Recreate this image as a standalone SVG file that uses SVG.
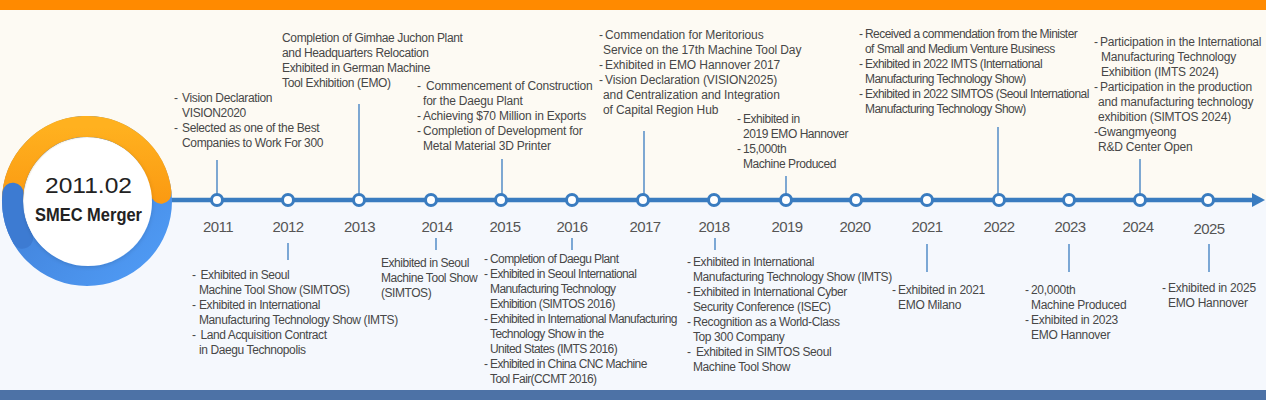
<svg xmlns="http://www.w3.org/2000/svg" width="1266" height="400" viewBox="0 0 1266 400">
<style>
.t{font-family:"Liberation Sans",Arial,sans-serif;font-size:12px;fill:#474747;letter-spacing:-0.35px}
.yr{font-family:"Liberation Sans",Arial,sans-serif;font-size:15px;fill:#555;letter-spacing:-0.6px;text-anchor:middle}
.nd{fill:#fff;stroke:#3a7cc0;stroke-width:3}
.ld{stroke:#3a7cc0;stroke-width:1.3;fill:none}
</style>
<defs>
<linearGradient id="og" x1="0" y1="0" x2="0" y2="1">
<stop offset="0" stop-color="#ffb11f"/><stop offset="1" stop-color="#fb9a12"/>
</linearGradient>
<linearGradient id="bg" x1="0" y1="0" x2="1" y2="1">
<stop offset="0" stop-color="#3c78cf"/><stop offset="1" stop-color="#509cf6"/>
</linearGradient>
<marker id="ah" markerWidth="14" markerHeight="14" refX="0" refY="7" orient="auto" markerUnits="userSpaceOnUse">
<path d="M0,0 L13,7 L0,14 Z" fill="#3a7cc0"/>
</marker>
<filter id="sh" x="-20%" y="-20%" width="140%" height="140%">
<feDropShadow dx="0" dy="1" stdDeviation="2" flood-color="#000" flood-opacity="0.15"/>
</filter>
</defs>
<rect x="0" y="0" width="1266" height="400" fill="#fdfaf3"/>
<rect x="0" y="200" width="1266" height="190" fill="#f5f8fd"/>
<rect x="0" y="0" width="1266" height="10" fill="#ff8a00"/>
<rect x="0" y="390" width="1266" height="10" fill="#4d72a6"/>

<g id="connectors">
<line x1="170" y1="200" x2="1252" y2="200" stroke="#3a7cc0" stroke-width="4.5" marker-end="url(#ah)"/>
<line class="ld" x1="217" y1="160" x2="217" y2="195"/>
<line class="ld" x1="288" y1="243" x2="288" y2="260"/>
<line class="ld" x1="359" y1="104" x2="359" y2="195"/>
<line class="ld" x1="436" y1="238" x2="436" y2="250"/>
<line class="ld" x1="502" y1="159" x2="502" y2="195"/>
<line class="ld" x1="572" y1="238" x2="572" y2="250"/>
<line class="ld" x1="644" y1="131" x2="644" y2="195"/>
<line class="ld" x1="715" y1="238" x2="715" y2="250"/>
<line class="ld" x1="786" y1="176" x2="786" y2="195"/>
<line class="ld" x1="927" y1="244" x2="927" y2="272"/>
<line class="ld" x1="998" y1="127" x2="998" y2="195"/>
<line class="ld" x1="1069" y1="244" x2="1069" y2="272"/>
<line class="ld" x1="1140" y1="159" x2="1140" y2="195"/>
<line class="ld" x1="1209" y1="244" x2="1209" y2="272"/>
</g>

<g id="merger">
<circle cx="87" cy="201" r="74.5" fill="none" stroke="url(#bg)" stroke-width="21"/>
<path d="M 12.5 201 A 74.5 74.5 0 0 1 161.1 193.2" fill="none" stroke="url(#og)" stroke-width="21" stroke-linecap="round"/>
<path d="M 22.5 238.25 A 74.5 74.5 0 0 1 12.9 193.2" fill="none" stroke="#3d7bd2" stroke-width="21" stroke-linecap="round"/>
<circle cx="88" cy="202" r="64" fill="#fff" filter="url(#sh)"/>
<text x="88.5" y="193" font-family="'Liberation Sans',Arial,sans-serif" font-size="22" fill="#222" text-anchor="middle" textLength="87" lengthAdjust="spacingAndGlyphs">2011.02</text>
<text x="88.5" y="221" font-family="'Liberation Sans',Arial,sans-serif" font-size="17.5" font-weight="bold" fill="#222" text-anchor="middle" textLength="107" lengthAdjust="spacingAndGlyphs">SMEC Merger</text>
</g>

<g id="y2011">
<circle class="nd" cx="217" cy="200" r="5.5"/>
<text class="yr" x="218" y="232">2011</text>
<text class="t"><tspan x="174" y="102">-</tspan><tspan x="182" y="102">Vision Declaration</tspan><tspan x="182" y="117">VISION2020</tspan><tspan x="174" y="132">-</tspan><tspan x="182" y="132">Selected as one of the Best</tspan><tspan x="182" y="147">Companies to Work For 300</tspan></text>
</g>

<g id="y2012">
<circle class="nd" cx="288" cy="200" r="5.5"/>
<text class="yr" x="288" y="232">2012</text>
<text class="t" style="letter-spacing:-0.4px"><tspan x="192" y="279">-</tspan><tspan x="200.5" y="279">Exhibited in Seoul</tspan><tspan x="199" y="294">Machine Tool Show (SIMTOS)</tspan><tspan x="192" y="309">-</tspan><tspan x="199" y="309">Exhibited in International</tspan><tspan x="199" y="324">Manufacturing Technology Show (IMTS)</tspan><tspan x="192" y="339">-</tspan><tspan x="200.5" y="339">Land Acquisition Contract</tspan><tspan x="199" y="354">in Daegu Technopolis</tspan></text>
</g>

<g id="y2013">
<circle class="nd" cx="359" cy="200" r="5.5"/>
<text class="yr" x="359.5" y="232">2013</text>
<text class="t"><tspan x="282" y="42">Completion of Gimhae Juchon Plant</tspan><tspan x="282" y="57">and Headquarters Relocation</tspan><tspan x="282" y="72">Exhibited in German Machine</tspan><tspan x="282" y="87">Tool Exhibition (EMO)</tspan></text>
</g>

<g id="y2014">
<circle class="nd" cx="431" cy="200" r="5.5"/>
<text class="yr" x="437" y="232">2014</text>
<text class="t" style="letter-spacing:-0.45px"><tspan x="381" y="267">Exhibited in Seoul</tspan><tspan x="381" y="282">Machine Tool Show</tspan><tspan x="381" y="297">(SIMTOS)</tspan></text>
</g>

<g id="y2015">
<circle class="nd" cx="501" cy="200" r="5.5"/>
<text class="yr" x="505" y="232">2015</text>
<text class="t" style="letter-spacing:-0.2px"><tspan x="417" y="90">-</tspan><tspan x="426" y="90">Commencement of Construction</tspan><tspan x="423" y="105">for the Daegu Plant</tspan><tspan x="417" y="120">-</tspan><tspan x="423" y="120">Achieving $70 Million in Exports</tspan><tspan x="417" y="135">-</tspan><tspan x="423" y="135">Completion of Development for</tspan><tspan x="423" y="150">Metal Material 3D Printer</tspan></text>
</g>

<g id="y2016">
<circle class="nd" cx="572" cy="200" r="5.5"/>
<text class="yr" x="572" y="232">2016</text>
<text class="t" style="letter-spacing:-0.6px"><tspan x="484" y="263">-</tspan><tspan x="490" y="263">Completion of Daegu Plant</tspan><tspan x="484" y="278">-</tspan><tspan x="490" y="278">Exhibited in Seoul International</tspan><tspan x="490" y="293">Manufacturing Technology</tspan><tspan x="490" y="308">Exhibition (SIMTOS 2016)</tspan><tspan x="484" y="323">-</tspan><tspan x="490" y="323">Exhibited in International Manufacturing</tspan><tspan x="490" y="338">Technology Show in the</tspan><tspan x="490" y="353">United States (IMTS 2016)</tspan><tspan x="484" y="368">-</tspan><tspan x="490" y="368">Exhibited in China CNC Machine</tspan><tspan x="490" y="383">Tool Fair(CCMT 2016)</tspan></text>
</g>

<g id="y2017">
<circle class="nd" cx="643" cy="200" r="5.5"/>
<text class="yr" x="645" y="232">2017</text>
<text class="t" style="letter-spacing:-0.1px"><tspan x="599" y="39">-</tspan><tspan x="605" y="39">Commendation for Meritorious</tspan><tspan x="603" y="54">Service on the 17th Machine Tool Day</tspan><tspan x="599" y="69">-</tspan><tspan x="605" y="69">Exhibited in EMO Hannover 2017</tspan><tspan x="599" y="84">-</tspan><tspan x="605" y="84">Vision Declaration (VISION2025)</tspan><tspan x="603" y="99">and Centralization and Integration</tspan><tspan x="603" y="114">of Capital Region Hub</tspan></text>
</g>

<g id="y2018">
<circle class="nd" cx="714" cy="200" r="5.5"/>
<text class="yr" x="714" y="232">2018</text>
<text class="t" style="letter-spacing:-0.4px"><tspan x="687" y="266">-</tspan><tspan x="693" y="266">Exhibited in International</tspan><tspan x="693" y="281">Manufacturing Technology Show (IMTS)</tspan><tspan x="687" y="296">-</tspan><tspan x="693" y="296">Exhibited in International Cyber</tspan><tspan x="693" y="311">Security Conference (ISEC)</tspan><tspan x="687" y="326">-</tspan><tspan x="693" y="326">Recognition as a World-Class</tspan><tspan x="693" y="341">Top 300 Company</tspan><tspan x="687" y="356">-</tspan><tspan x="696" y="356">Exhibited in SIMTOS Seoul</tspan><tspan x="693" y="371">Machine Tool Show</tspan></text>
</g>

<g id="y2019">
<circle class="nd" cx="786" cy="200" r="5.5"/>
<text class="yr" x="787" y="232">2019</text>
<text class="t" style="letter-spacing:-0.45px"><tspan x="737" y="123">-</tspan><tspan x="743" y="123">Exhibited in</tspan><tspan x="743" y="138">2019 EMO Hannover</tspan><tspan x="737" y="153">-</tspan><tspan x="743" y="153">15,000th</tspan><tspan x="743" y="168">Machine Produced</tspan></text>
</g>

<g id="y2020">
<circle class="nd" cx="856" cy="200" r="5.5"/>
<text class="yr" x="855" y="232">2020</text>
</g>

<g id="y2021">
<circle class="nd" cx="927" cy="200" r="5.5"/>
<text class="yr" x="927" y="232">2021</text>
<text class="t" style="letter-spacing:-0.3px"><tspan x="892" y="294">-</tspan><tspan x="898" y="294">Exhibited in 2021</tspan><tspan x="898" y="309">EMO Milano</tspan></text>
</g>

<g id="y2022">
<circle class="nd" cx="999" cy="200" r="5.5"/>
<text class="yr" x="999" y="232">2022</text>
<text class="t" style="letter-spacing:-0.55px"><tspan x="859" y="38">-</tspan><tspan x="865" y="38">Received a commendation from the Minister</tspan><tspan x="865" y="53">of Small and Medium Venture Business</tspan><tspan x="859" y="68">-</tspan><tspan x="865" y="68">Exhibited in 2022 IMTS (International</tspan><tspan x="865" y="83">Manufacturing Technology Show)</tspan><tspan x="859" y="98">-</tspan><tspan x="865" y="98">Exhibited in 2022 SIMTOS (Seoul International</tspan><tspan x="865" y="113">Manufacturing Technology Show)</tspan></text>
</g>

<g id="y2023">
<circle class="nd" cx="1069" cy="200" r="5.5"/>
<text class="yr" x="1070" y="232">2023</text>
<text class="t" style="letter-spacing:-0.3px"><tspan x="1025" y="294">-</tspan><tspan x="1031" y="294">20,000th</tspan><tspan x="1031" y="309">Machine Produced</tspan><tspan x="1025" y="324">-</tspan><tspan x="1031" y="324">Exhibited in 2023</tspan><tspan x="1031" y="339">EMO Hannover</tspan></text>
</g>

<g id="y2024">
<circle class="nd" cx="1140" cy="200" r="5.5"/>
<text class="yr" x="1138" y="232">2024</text>
<text class="t" style="letter-spacing:-0.2px"><tspan x="1094" y="46">-</tspan><tspan x="1100" y="46">Participation in the International</tspan><tspan x="1101" y="61">Manufacturing Technology</tspan><tspan x="1101" y="76">Exhibition (IMTS 2024)</tspan><tspan x="1094" y="91">-</tspan><tspan x="1100" y="91">Participation in the production</tspan><tspan x="1098" y="106">and manufacturing technology</tspan><tspan x="1098" y="121">exhibition (SIMTOS 2024)</tspan><tspan x="1094" y="136">-Gwangmyeong</tspan><tspan x="1098" y="151">R&amp;D Center Open</tspan></text>
</g>

<g id="y2025">
<circle class="nd" cx="1208" cy="200" r="5.5"/>
<text class="yr" x="1209" y="234">2025</text>
<text class="t" style="letter-spacing:-0.25px"><tspan x="1162" y="292">-</tspan><tspan x="1168" y="292">Exhibited in 2025</tspan><tspan x="1168" y="307">EMO Hannover</tspan></text>
</g>
</svg>
